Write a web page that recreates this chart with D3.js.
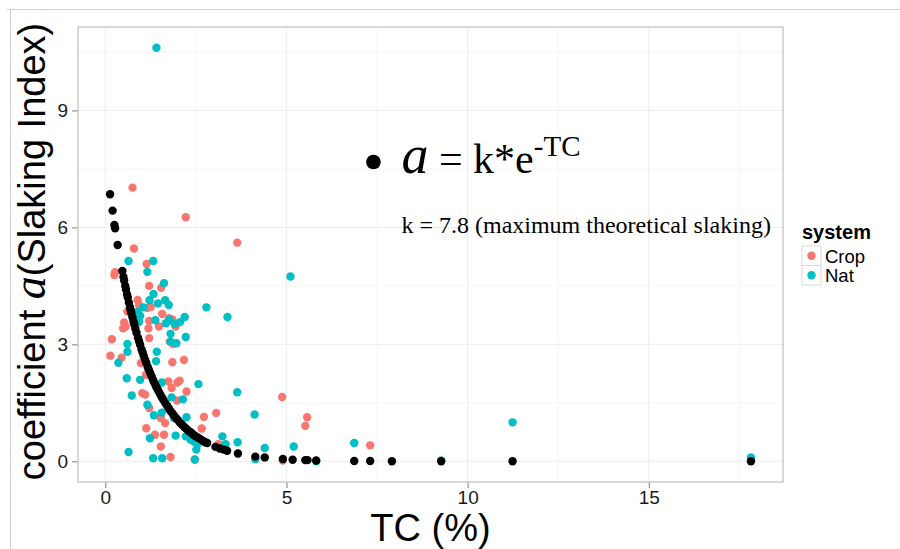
<!DOCTYPE html>
<html>
<head>
<meta charset="utf-8">
<script src="https://cdn.jsdelivr.net/npm/d3@7"></script>
<style>
  body { margin: 0; background: #fff; }
  svg { display: block; }
</style>
</head>
<body>
<div class="chart"></div>
<script>
// observed slaking coefficient vs total carbon, by system
const crop = [
  [0.75, 7.02], [2.22, 6.26], [3.64, 5.61], [0.79, 5.46], [1.14, 5.06], [0.25, 4.78],
  [0.27, 4.85], [1.21, 4.50], [1.54, 4.45], [0.89, 4.14], [0.93, 4.01], [1.16, 3.93],
  [1.25, 3.96], [0.61, 3.84], [1.57, 3.78], [1.76, 3.67], [1.85, 3.64], [0.52, 3.56],
  [0.56, 3.46], [0.49, 3.41], [1.21, 3.60], [1.19, 3.41], [1.48, 3.46], [1.94, 3.46],
  [1.21, 3.16], [0.18, 3.13], [1.78, 3.07], [1.87, 3.01], [0.14, 2.71], [0.45, 2.66],
  [1.85, 2.54], [2.17, 2.60], [0.98, 2.52], [1.12, 2.22], [1.74, 2.05], [1.99, 2.02],
  [2.05, 2.07], [1.83, 1.88], [2.24, 1.79], [1.02, 1.75], [1.10, 1.71], [1.98, 1.56],
  [1.21, 1.37], [1.53, 1.11], [1.65, 0.98], [1.13, 0.85], [1.37, 0.68], [1.62, 0.68],
  [1.53, 0.38], [1.80, 0.11], [2.47, 0.04], [2.66, 0.84], [2.72, 1.14], [3.06, 1.24],
  [3.12, 0.44], [4.88, 1.65], [5.57, 1.13], [5.52, 0.91], [7.31, 0.41], [4.90, 0.02]
];
const nat = [
  [1.41, 10.61], [0.64, 5.14], [1.32, 5.14], [1.16, 4.86], [1.62, 4.57], [5.11, 4.74],
  [1.33, 4.29], [1.22, 4.13], [1.65, 4.13], [1.75, 4.01], [2.79, 3.95], [3.37, 3.70],
  [2.19, 3.70], [2.06, 3.57], [0.89, 3.84], [0.96, 3.73], [0.93, 3.58], [1.67, 3.54],
  [1.76, 3.63], [1.91, 3.52], [1.80, 3.27], [1.80, 3.07], [1.96, 3.03], [2.22, 3.19],
  [0.61, 3.01], [0.61, 2.81], [1.42, 2.81], [1.40, 2.57], [0.36, 2.53], [0.59, 2.13],
  [0.96, 2.09], [1.56, 2.02], [2.57, 1.98], [0.73, 1.69], [1.83, 1.64], [2.14, 1.59],
  [1.16, 1.45], [3.64, 1.77], [1.56, 1.25], [1.34, 1.18], [1.89, 1.11], [2.24, 1.13],
  [4.12, 1.20], [1.94, 0.66], [1.23, 0.59], [2.22, 0.64], [2.35, 0.56], [2.45, 0.50],
  [2.54, 0.44], [3.23, 0.64], [3.32, 0.44], [3.65, 0.49], [2.51, 0.30], [2.47, 0.05],
  [0.64, 0.24], [1.32, 0.08], [1.57, 0.08], [4.40, 0.34], [5.20, 0.38], [6.87, 0.47],
  [11.24, 1.00], [17.82, 0.10], [9.27, 0.02], [5.82, 0.00], [4.14, 0.05],
  [1.45, 4.05], [1.38, 3.62], [1.05, 3.95]
];
// fitted values (black points)
const fitted = [
  [0.13, 6.85], [0.20, 6.43], [0.25, 6.06], [0.27, 5.98], [0.34, 5.55], [0.47, 4.88],
  [0.50, 4.73], [0.52, 4.64], [0.55, 4.50], [0.57, 4.41], [0.60, 4.28], [0.62, 4.20],
  [0.65, 4.07], [0.68, 3.95], [0.70, 3.87], [0.72, 3.80], [0.75, 3.69], [0.78, 3.58],
  [0.80, 3.51], [0.83, 3.40], [0.86, 3.30], [0.90, 3.17], [0.93, 3.08], [0.96, 2.99],
  [1.00, 2.87], [1.03, 2.79], [1.06, 2.70], [1.10, 2.60], [1.13, 2.52], [1.17, 2.42],
  [1.20, 2.35], [1.24, 2.26], [1.28, 2.17], [1.32, 2.08], [1.36, 2.00], [1.40, 1.92],
  [1.44, 1.85], [1.48, 1.78], [1.52, 1.71], [1.56, 1.64], [1.60, 1.58], [1.65, 1.50],
  [1.70, 1.43], [1.75, 1.36], [1.80, 1.29], [1.85, 1.23], [1.90, 1.17], [1.95, 1.11],
  [2.00, 1.06], [2.06, 0.99], [2.12, 0.94], [2.18, 0.88], [2.24, 0.83], [2.30, 0.78],
  [2.36, 0.74], [2.42, 0.69], [2.48, 0.65], [2.55, 0.61], [2.62, 0.57], [2.70, 0.52],
  [2.76, 0.49], [2.81, 0.47], [3.04, 0.37], [3.16, 0.33], [3.27, 0.30], [3.36, 0.27],
  [3.66, 0.20], [4.14, 0.12], [4.40, 0.10], [4.90, 0.06], [5.17, 0.04], [5.52, 0.03],
  [5.58, 0.03], [5.82, 0.02], [6.87, 0.01], [7.31, 0.01], [7.91, 0.00], [9.27, 0.00],
  [11.24, 0.00], [17.82, 0.00]
];
const systems = ["Crop", "Nat"];
const systemColors = ["#F8766D", "#00BFC4"];
const xTicks = [0, 5, 10, 15];
const yTicks = [0, 3, 6, 9];

const width = 900;
const height = 549;
const panel = { left: 78, right: 783, top: 27, bottom: 482 };

const svg = d3.select(".chart")
  .append("svg")
  .attr("width", width)
  .attr("height", height);

// outer frame of the figure
svg.append("path")
  .attr("d", "M7,9.5H900M10.5,9.5V549")
  .attr("stroke", "#d0d0d0")
  .attr("fill", "none");

const allPts = crop.concat(nat, fitted);
function expand(ext) {
  const pad = (ext[1] - ext[0]) * 0.05;
  return [ext[0] - pad, ext[1] + pad];
}
const x = d3.scaleLinear()
  .domain(expand(d3.extent(allPts, d => d[0])))
  .range([panel.left, panel.right]);
const y = d3.scaleLinear()
  .domain(expand(d3.extent(allPts, d => d[1])))
  .range([panel.bottom, panel.top]);

const color = d3.scaleOrdinal().domain(systems).range(systemColors);

// grid
const grid = svg.append("g");
const xMinor = xTicks.map(t => t + 2.5).filter(t => t < x.domain()[1]);
const yMinor = yTicks.map(t => t + 1.5).filter(t => t < y.domain()[1]);
grid.selectAll(".xm").data(xMinor).enter().append("line")
  .attr("x1", d => x(d)).attr("x2", d => x(d))
  .attr("y1", panel.top).attr("y2", panel.bottom)
  .attr("stroke", "#f6f6f6");
grid.selectAll(".ym").data(yMinor).enter().append("line")
  .attr("y1", d => y(d)).attr("y2", d => y(d))
  .attr("x1", panel.left).attr("x2", panel.right)
  .attr("stroke", "#f6f6f6");
grid.selectAll(".xM").data(xTicks).enter().append("line")
  .attr("x1", d => x(d)).attr("x2", d => x(d))
  .attr("y1", panel.top).attr("y2", panel.bottom)
  .attr("stroke", "#ededed");
grid.selectAll(".yM").data(yTicks).enter().append("line")
  .attr("y1", d => y(d)).attr("y2", d => y(d))
  .attr("x1", panel.left).attr("x2", panel.right)
  .attr("stroke", "#ededed");

// axes
const xAxis = svg.append("g")
  .attr("transform", `translate(0,${panel.bottom})`)
  .call(d3.axisBottom(x).tickValues(xTicks).tickSize(6).tickPadding(3));
const yAxis = svg.append("g")
  .attr("transform", `translate(${panel.left},0)`)
  .call(d3.axisLeft(y).tickValues(yTicks).tickSize(6).tickPadding(4));
[xAxis, yAxis].forEach(ax => {
  ax.select(".domain").remove();
  ax.selectAll(".tick line").attr("stroke", "#7f7f7f");
  ax.selectAll(".tick text")
    .attr("fill", "#1a1a1a")
    .style("font-family", "'Liberation Sans', Arial, sans-serif")
    .style("font-size", "19px");
});

// points
const pts = svg.append("g");
[crop, nat].forEach((series, i) => {
  pts.append("g").selectAll("circle")
    .data(series).enter().append("circle")
    .attr("cx", d => x(d[0]))
    .attr("cy", d => y(d[1]))
    .attr("r", 4.2)
    .attr("fill", color(systems[i]));
});
pts.append("g").selectAll("circle")
  .data(fitted).enter().append("circle")
  .attr("cx", d => x(d[0]))
  .attr("cy", d => y(d[1]))
  .attr("r", 4.2)
  .attr("fill", "#000");

// panel border
svg.append("rect")
  .attr("x", panel.left).attr("y", panel.top)
  .attr("width", panel.right - panel.left)
  .attr("height", panel.bottom - panel.top)
  .attr("fill", "none")
  .attr("stroke", "#c4c4c4")
  .attr("stroke-width", 1.3);

// equation annotation
const serif = "'Liberation Serif', 'Times New Roman', serif";
const ax0 = x(7.4), ay0 = y(7.6);
svg.append("circle")
  .attr("cx", ax0).attr("cy", ay0 - 3)
  .attr("r", 7.3).attr("fill", "#000");
const eq = svg.append("text")
  .attr("x", ax0 + 28).attr("y", ay0 + 8)
  .style("font-family", serif)
  .attr("fill", "#000");
eq.append("tspan").text("a").style("font-style", "italic").style("font-size", "54px");
eq.append("tspan").text(" = k*e").style("font-size", "42px");
eq.append("tspan").text("-TC").style("font-size", "29px").attr("dy", -17);

svg.append("text")
  .attr("x", ax0 + 28).attr("y", y(5.86))
  .style("font-family", serif)
  .style("font-size", "24px")
  .attr("fill", "#000")
  .text("k = 7.8 (maximum theoretical slaking)");

// axis titles
const sans = "'Liberation Sans', Arial, sans-serif";
svg.append("text")
  .attr("x", (panel.left + panel.right) / 2)
  .attr("y", 541)
  .attr("text-anchor", "middle")
  .style("font-family", sans)
  .style("font-size", "38px")
  .text("TC (%)");

const yt = svg.append("text")
  .attr("transform", `translate(45,${(panel.top + panel.bottom) / 2 - 3}) rotate(-90)`)
  .attr("text-anchor", "middle")
  .style("font-family", sans)
  .style("font-size", "38px");
yt.append("tspan").text("coefficient ");
yt.append("tspan").text("a").style("font-family", serif).style("font-style", "italic").style("font-size", "46px");
yt.append("tspan").text("(Slaking Index)");

// legend
const legend = svg.append("g").attr("transform", "translate(802,0)");
legend.append("text")
  .attr("x", 0).attr("y", 239)
  .style("font-family", sans)
  .style("font-size", "20px")
  .style("font-weight", "bold")
  .text("system");
const item = legend.selectAll(".item").data(systems).enter().append("g")
  .attr("transform", (d, i) => `translate(0,${246 + i * 19.5})`);
item.append("rect")
  .attr("width", 19).attr("height", 19.5)
  .attr("fill", "#fff")
  .attr("stroke", "#d9d9d9");
item.append("circle")
  .attr("cx", 9.5).attr("cy", 9.75).attr("r", 4.2)
  .attr("fill", d => color(d));
item.append("text")
  .attr("x", 23).attr("y", 16.5)
  .style("font-family", sans)
  .style("font-size", "18.5px")
  .text(d => d);
</script>
</body>
</html>
